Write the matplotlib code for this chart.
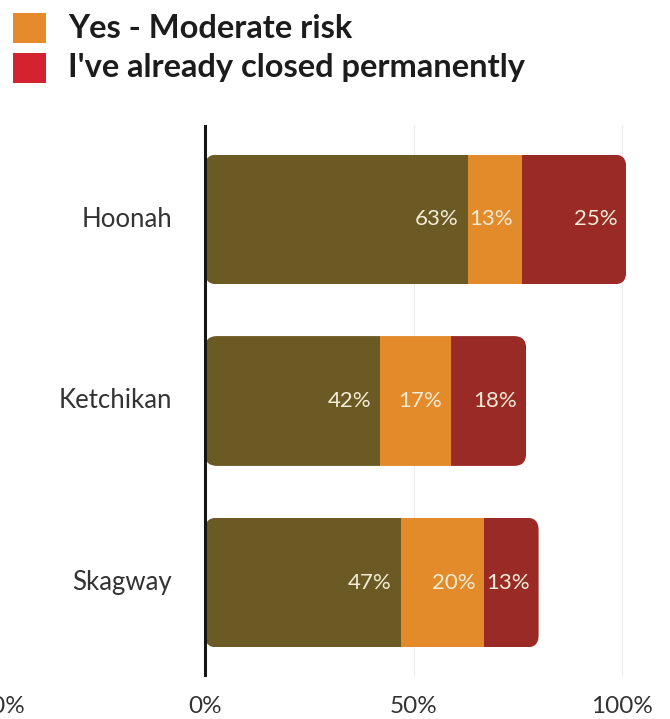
import matplotlib
matplotlib.use("Agg")
import matplotlib.pyplot as plt
from matplotlib.patches import FancyBboxPatch, Rectangle

# ---- data ----
categories = ["Hoonah", "Ketchikan", "Skagway"]
high_risk = [63, 42, 47]
moderate_risk = [13, 17, 20]
closed = [25, 18, 13]
x_ticks = [-50, 0, 50, 100]
x_tick_labels = ["-50%", "0%", "50%", "100%"]
legend_names = ["Yes - Moderate risk", "I've already closed permanently"]

# ---- styles ----
bar_colors = ["#6b5a23", "#e38a2a", "#9a2a26"]
legend_colors = ["#e68b2c", "#d42231"]
label_color = "#f4ecd6"
text_color = "#333333"

plt.rcParams["font.family"] = ["Lato", "DejaVu Sans"]

W, H = 670, 719
fig = plt.figure(figsize=(W / 100, H / 100), dpi=100)

px_per_unit = 4.17
x0_px = 205
xmin, xmax = -52, 108
ax_left_px = x0_px + xmin * px_per_unit
ax_w_px = (xmax - xmin) * px_per_unit
ax_top_px, ax_bot_px = 125, 677
ax = fig.add_axes([ax_left_px / W, (H - ax_bot_px) / H, ax_w_px / W, (ax_bot_px - ax_top_px) / H])

ax.set_xlim(xmin, xmax)
ax.set_ylim(2.52, -0.52)

y = list(range(len(categories)))
bar_h = 0.715
series = [high_risk, moderate_risk, closed]

# rounding for the whole stacked bar
px_per_yunit = (ax_bot_px - ax_top_px) / (2.52 + 0.52)
r_px = 12
r_x = r_px / px_per_unit
aspect = (r_px / px_per_yunit) / r_x

for i, cat in enumerate(categories):
    total = sum(s[i] for s in series)
    clip = FancyBboxPatch((0, y[i] - bar_h / 2), total, bar_h,
                          boxstyle=f"round,pad=0,rounding_size={r_x}",
                          mutation_aspect=aspect, transform=ax.transData,
                          facecolor="none", edgecolor="none")
    left = 0
    for s, c in zip(series, bar_colors):
        bars = ax.barh(y[i], s[i], left=left, height=bar_h, color=c, edgecolor="none", zorder=2)
        for b in bars:
            b.set_clip_path(clip)
        ax.annotate(f"{s[i]}%", xy=(left + s[i], y[i]), xytext=(-6.5, 0),
                    textcoords="offset points", ha="right", va="center",
                    color=label_color, fontsize=16, zorder=3)
        left += s[i]

# faint grid
for gx in [50, 100]:
    ax.axvline(gx, color="#ececec", lw=0.8, zorder=0)
ax.axvline(0, color="#151515", lw=2.2, zorder=4)

ax.set_yticks(y)
ax.set_yticklabels([])
ax.set_xticks(x_ticks)
ax.set_xticklabels(x_tick_labels, fontsize=17.5, color=text_color)
ax.tick_params(axis="y", length=0)
ax.tick_params(axis="x", length=0, pad=14)
for sp in ax.spines.values():
    sp.set_visible(False)

# category labels to the left of the 0 line
for i, cat in enumerate(categories):
    ax.annotate(cat, xy=(0, y[i]), xytext=(-(x0_px - 172) * 0.72, 0), textcoords="offset points",
                ha="right", va="center", fontsize=18.5, color=text_color, annotation_clip=False)

# legend (manual)
for k, (name, c) in enumerate(zip(legend_names, legend_colors)):
    yc = 28 + k * 40
    fig.patches.append(Rectangle((13 / W, 1 - (yc + 15) / H), 33 / W, 30 / H,
                                 transform=fig.transFigure, facecolor=c, edgecolor="none"))
    fig.text(68 / W, 1 - yc / H, name, ha="left", va="center", fontsize=23.5,
             fontweight="bold", color="#1c1c1c")

fig.savefig("out.png", dpi=100)
